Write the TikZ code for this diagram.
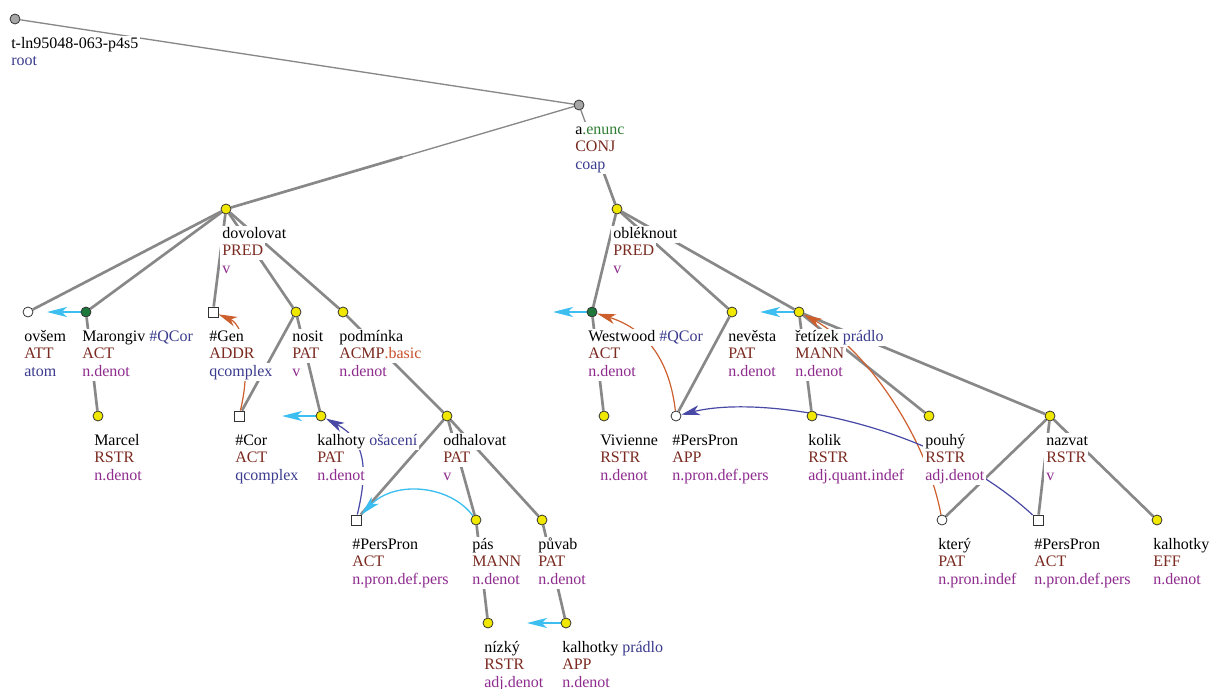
\documentclass[tikz,border=0pt]{standalone}
\usepackage{fontspec}
\setmainfont{Liberation Serif}
\usetikzlibrary{arrows.meta,backgrounds}

\definecolor{edgegray}{RGB}{136,136,136}
\definecolor{funcol}{RGB}{122,42,32}
\definecolor{typecol}{RGB}{142,44,142}
\definecolor{infocol}{RGB}{58,58,142}
\definecolor{enuncol}{RGB}{46,125,50}
\definecolor{basiccol}{RGB}{200,80,42}
\definecolor{corefcyan}{RGB}{60,190,240}
\definecolor{coreforange}{RGB}{205,95,45}
\definecolor{corefblue}{RGB}{72,72,165}
\definecolor{nodeyellow}{RGB}{240,232,0}
\definecolor{nodegreen}{RGB}{30,120,60}

\tikzset{
  tnode/.style={circle,draw=black!80,line width=0.6pt,inner sep=0pt,minimum size=7.5pt},
  yelnode/.style={tnode,fill=nodeyellow},
  grnnode/.style={tnode,fill=nodegreen},
  greynode/.style={tnode,fill=black!35},
  opennode/.style={tnode,fill=white},
  sqnode/.style={rectangle,draw=black!80,line width=0.6pt,fill=white,inner sep=0pt,minimum size=7.5pt},
  lbl/.style={anchor=base west,fill=white,inner xsep=1.5pt,inner ysep=0pt,
    text height=9.5pt,text depth=3.5pt,font=\fontsize{12}{13}\selectfont},
  edge/.style={draw=edgegray,line width=2pt},
  rootedge/.style={draw=edgegray,line width=1pt},
  cyanref/.style={corefcyan,line width=1.4pt,-{Stealth[length=15pt,width=7.5pt,inset=4pt]}},
  orangeref/.style={coreforange,line width=0.9pt,-{Stealth[length=14pt,width=7.5pt,inset=4pt]}},
  blueref/.style={corefblue,line width=0.9pt,-{Stealth[length=14pt,width=7.5pt,inset=4pt]}}
}

\begin{document}
\begin{tikzpicture}[x=0.75pt,y=-0.75pt]
\useasboundingbox (0,0) rectangle (1212,688);
%top
\node[greynode] (root) at (15,19) {};
\node[greynode] (aenunc) at (579,105) {};
\node[yelnode] (dov) at (226,209) {};
\node[yelnode] (obl) at (617,209) {};
%left tree
\node[opennode] (ovsem) at (28,312) {};
\node[grnnode] (mar) at (86,312) {};
\node[sqnode] (gen) at (213,312) {};
\node[yelnode] (nosit) at (296,312) {};
\node[yelnode] (podm) at (343,312) {};
\node[yelnode] (marcel) at (98,416) {};
\node[sqnode] (cor) at (239,416) {};
\node[yelnode] (kal) at (321,416) {};
\node[yelnode] (odh) at (447,416) {};
\node[sqnode] (psp1) at (356,520) {};
\node[yelnode] (pas) at (476,520) {};
\node[yelnode] (puvab) at (542,520) {};
\node[yelnode] (nizky) at (488,623) {};
\node[yelnode] (kalh) at (566,623) {};
%right tree
\node[grnnode] (west) at (592,312) {};
\node[yelnode] (nev) at (732,312) {};
\node[yelnode] (ret) at (799,312) {};
\node[yelnode] (viv) at (604,416) {};
\node[opennode] (psp2) at (676,416) {};
\node[yelnode] (kolik) at (812,416) {};
\node[yelnode] (pouhy) at (929,416) {};
\node[yelnode] (nazv) at (1050,416) {};
\node[opennode] (ktery) at (942,520) {};
\node[sqnode] (psp3) at (1038,520) {};
\node[yelnode] (kalh2) at (1157,520) {};
%labels
\path (root) ++(-6,29.5) node[lbl] (root-w) {t-ln95048-063-p4s5}
  ++(0,17.3) node[lbl,text=infocol] (root-t) {root};
\foreach \nm/\wrd/\fun/\typ in {
  aenunc/{a\textcolor{enuncol}{.enunc}}/CONJ/{\textcolor{infocol}{coap}},
  dov/dovolovat/PRED/v, obl/obléknout/PRED/v,
  ovsem/ovšem/ATT/{\textcolor{infocol}{atom}},
  mar/{Marongiv \textcolor{infocol}{\#QCor}}/ACT/n.denot,
  gen/\#Gen/ADDR/{\textcolor{infocol}{qcomplex}},
  nosit/nosit/PAT/v,
  podm/podmínka/{ACMP\textcolor{basiccol}{.basic}}/n.denot,
  marcel/Marcel/RSTR/n.denot,
  cor/\#Cor/ACT/{\textcolor{infocol}{qcomplex}},
  kal/{kalhoty \textcolor{infocol}{ošacení}}/PAT/n.denot,
  odh/odhalovat/PAT/v,
  psp1/\#PersPron/ACT/n.pron.def.pers,
  pas/pás/MANN/n.denot, puvab/půvab/PAT/n.denot,
  nizky/nízký/RSTR/adj.denot,
  kalh/{kalhotky \textcolor{infocol}{prádlo}}/APP/n.denot,
  west/{Westwood \textcolor{infocol}{\#QCor}}/ACT/n.denot,
  nev/nevěsta/PAT/n.denot,
  ret/{řetízek \textcolor{infocol}{prádlo}}/MANN/n.denot,
  viv/Vivienne/RSTR/n.denot,
  psp2/\#PersPron/APP/n.pron.def.pers,
  kolik/kolik/RSTR/adj.quant.indef,
  pouhy/pouhý/RSTR/adj.denot, nazv/nazvat/RSTR/v,
  ktery/který/PAT/n.pron.indef,
  psp3/\#PersPron/ACT/n.pron.def.pers,
  kalh2/kalhotky/EFF/n.denot} {
  \path (\nm) ++(-6,29.5) node[lbl] (\nm-w) {\wrd}
    ++(0,17.3) node[lbl,text=funcol] (\nm-f) {\fun}
    ++(0,17.3) node[lbl,text=typecol] (\nm-t) {\typ};
}
%edges
\begin{scope}[on background layer]
\draw[rootedge] (root) -- (aenunc);
\draw[rootedge] (aenunc) -- (dov) coordinate[pos=0.5] (half-dov);
\draw[rootedge] (aenunc) -- (obl) coordinate[pos=0.5] (half-obl);
\draw[edge] (half-dov) -- (dov);
\draw[edge] (half-obl) -- (obl);
\foreach \p/\c in {dov/ovsem,dov/mar,dov/gen,dov/nosit,dov/podm,mar/marcel,
  nosit/cor,nosit/kal,podm/odh,odh/psp1,odh/pas,odh/puvab,pas/nizky,puvab/kalh,
  obl/west,obl/nev,obl/ret,west/viv,nev/psp2,ret/kolik,ret/pouhy,ret/nazv,
  nazv/ktery,nazv/psp3,nazv/kalh2}
  \draw[edge] (\p) -- (\c);
%coreference
\draw[cyanref] (mar) -- ++(-39,0) coordinate (mar-ref);
\draw[cyanref] (kal) -- ++(-39,0) coordinate (kal-ref);
\draw[cyanref] (kalh) -- ++(-39,0) coordinate (kalh-ref);
\draw[cyanref] (west) -- ++(-39,0) coordinate (west-ref);
\draw[cyanref] (ret) -- ++(-39,0) coordinate (ret-ref);
\draw[cyanref,line width=1pt] (pas) .. controls (450,485) and (395,480) .. (psp1);
\draw[orangeref] (cor) .. controls (250,372) and (246,326) .. (gen);
\draw[orangeref] (psp2) .. controls (670,365) and (650,330) .. (west);
\draw[orangeref] (ktery) .. controls (925,430) and (860,345) .. (ret);
\draw[blueref] (psp1) .. controls (368,470) and (366,440) .. (kal);
\draw[blueref] (psp3) .. controls (930,420) and (760,395) .. (psp2);
\end{scope}
\end{tikzpicture}
\end{document}
